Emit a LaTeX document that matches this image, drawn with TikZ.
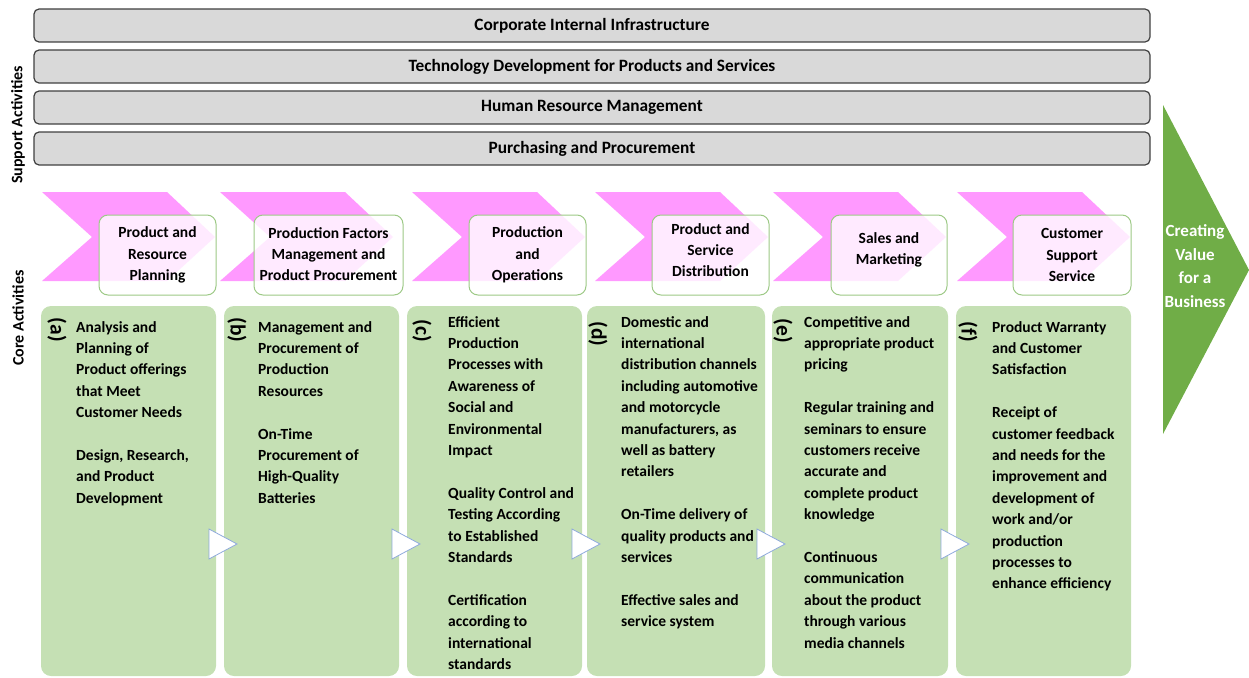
\documentclass[tikz,border=0pt]{standalone}
\usepackage{fontspec}
\setmainfont{Carlito}
\usetikzlibrary{calc}
\definecolor{barfill}{HTML}{D9D9D9}
\definecolor{barline}{HTML}{404040}
\definecolor{chevpink}{HTML}{FF99FF}
\definecolor{boxgreen}{HTML}{C5E0B4}
\definecolor{edgegreen}{HTML}{9DC986}
\definecolor{arrowgreen}{HTML}{70AD47}
\definecolor{triblue}{HTML}{8FAADC}
\begin{document}
\begin{tikzpicture}[x=1pt,y=-1pt,
  supbar/.style={draw=barline, fill=barfill, line width=1.2pt, rounded corners=5pt,
    minimum width=1116pt, minimum height=33pt, inner sep=0pt,
    font=\fontsize{17.3}{20}\selectfont\bfseries},
  chevron/.style={fill=chevpink},
  titlebox/.style={draw=edgegreen, fill=white, fill opacity=0.8, text opacity=1,
    line width=1pt, rounded corners=9pt, minimum width=117pt, minimum height=80pt,
    inner sep=0pt},
  titletext/.style={align=center, inner sep=0pt,
    font=\fontsize{15.5}{21.3}\selectfont\bfseries},
  content/.style={fill=boxgreen, rounded corners=10pt, minimum height=370pt, inner sep=0pt},
  bodytext/.style={anchor=north west, align=left, inner sep=0pt,
    font=\fontsize{15.5}{21.4}\selectfont\bfseries},
  letter/.style={rotate=-90, inner sep=0pt, font=\fontsize{21.5}{24}\selectfont\bfseries},
  sidelabel/.style={rotate=90, inner sep=0pt, font=\fontsize{16}{19}\selectfont\bfseries},
  steparrow/.style={draw=triblue, fill=white, line width=0.8pt, line join=miter},
  valuetext/.style={text=white, align=center, inner sep=0pt,
    font=\fontsize{17}{23.7}\selectfont\bfseries}
]
\useasboundingbox (0,0) rectangle (1249,677);

% support activities
\node[supbar] (infra) at (592,25.5) {Corporate Internal Infrastructure};
\node[supbar] (tech)  at (592,66.5) {Technology Development for Products and Services};
\node[supbar] (hrm)   at (592,107.5) {Human Resource Management};
\node[supbar] (purch) at (592,148.5) {Purchasing and Procurement};

% side labels
\node[sidelabel] (suplbl) at (18,125) {Support Activities};
\node[sidelabel] (corelbl) at (18,318) {Core Activities};

% chevrons of the primary activities
\foreach \x in {42,220,412,595,773,957}
  \fill[chevron] (\x,192) -- ++(125,0) -- ++(48,45) -- ++(-48,44) -- ++(-125,0) -- ++(50,-44) -- cycle;

% activity title boxes
\node[titlebox] (t1) at (157.5,255) {};
\node[titlebox, minimum width=149pt] (t2) at (328.5,255) {};
\node[titlebox] (t3) at (527.5,255) {};
\node[titlebox] (t4) at (710.5,255) {};
\node[titlebox, minimum width=116pt] (t5) at (889,255) {};
\node[titlebox, minimum width=118pt] (t6) at (1072,255) {};

% activity titles
\node[titletext] (n1) at ($(t1.center)+(0,0)$) {Product and\\Resource\\Planning};
\node[titletext] (n2) at ($(t2.center)+(0,-1)$) {Production Factors\\Management and\\Product Procurement};
\node[titletext] (n3) at ($(t3.center)+(0,0)$) {Production\\and\\Operations};
\node[titletext] (n4) at ($(t4.center)+(0,-5)$) {Product and\\Service\\Distribution};
\node[titletext] (n5) at ($(t5.center)+(0,-5)$) {Sales and\\Marketing};
\node[titletext] (n6) at ($(t6.center)+(0,0)$) {Customer\\Support\\Service};

% content panels
\node[content, minimum width=175pt] (ca) at (128.5,491) {};
\node[content, minimum width=175pt] (cb) at (311.5,491) {};
\node[content, minimum width=175pt] (cc) at (494.5,491) {};
\node[content, minimum width=178pt] (cd) at (676,491) {};
\node[content, minimum width=176pt] (ce) at (860,491) {};
\node[content, minimum width=175pt] (cf) at (1043.5,491) {};

% panel letters
\node[letter] (la) at (57,330) {(a)};
\node[letter] (lb) at (237,330) {(b)};
\node[letter] (lc) at (422,331) {(c)};
\node[letter] (ld) at (598,334) {(d)};
\node[letter] (le) at (783,331) {(e)};
\node[letter] (lf) at (968,332) {(f)};

% panel texts
\node[bodytext] (xa) at (76,321) {Analysis and\\Planning of\\Product offerings\\that Meet\\Customer Needs\\[21.4pt]Design, Research,\\and Product\\Development};
\node[bodytext] (xb) at (258,321) {Management and\\Procurement of\\Production\\Resources\\[21.4pt]On-Time\\Procurement of\\High-Quality\\Batteries};
\node[bodytext] (xc) at (448,316) {Efficient\\Production\\Processes with\\Awareness of\\Social and\\Environmental\\Impact\\[21.4pt]Quality Control and\\Testing According\\to Established\\Standards\\[21.4pt]Certification\\according to\\international\\standards};
\node[bodytext] (xd) at (621,316) {Domestic and\\international\\distribution channels\\including automotive\\and motorcycle\\manufacturers, as\\well as battery\\retailers\\[21.4pt]On-Time delivery of\\quality products and\\services\\[21.4pt]Effective sales and\\service system};
\node[bodytext] (xe) at (804,316) {Competitive and\\appropriate product\\pricing\\[21.4pt]Regular training and\\seminars to ensure\\customers receive\\accurate and\\complete product\\knowledge\\[21.4pt]Continuous\\communication\\about the product\\through various\\media channels};
\node[bodytext] (xf) at (992,321) {Product Warranty\\and Customer\\Satisfaction\\[21.4pt]Receipt of\\customer feedback\\and needs for the\\improvement and\\development of\\work and/or\\production\\processes to\\enhance efficiency};

% flow arrows between panels
\foreach \x in {209,392,572,757,941}
  \draw[steparrow] (\x,529) -- (\x+28,544) -- (\x,559) -- cycle;

% value arrow
\fill[arrowgreen] (1163,105) -- (1249,270) -- (1163,434) -- cycle;
\node[valuetext] (value) at (1195,266) {Creating\\Value\\for a\\Business};
\end{tikzpicture}
\end{document}
